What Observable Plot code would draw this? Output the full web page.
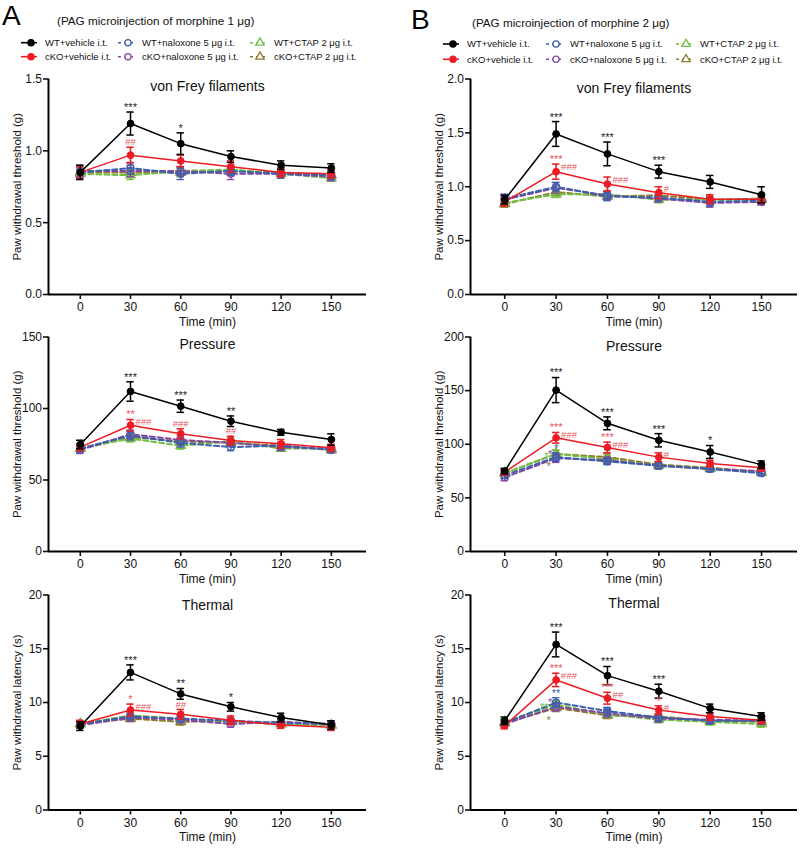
<!DOCTYPE html>
<html><head><meta charset="utf-8">
<script src="https://cdn.jsdelivr.net/npm/d3@7"></script>
<script src="https://cdn.jsdelivr.net/npm/@observablehq/plot@0.6"></script>
<style>
body{margin:0;background:#fff;}
#root{position:relative;width:800px;height:849px;overflow:hidden;font-family:"Liberation Sans",Arial,Helvetica,sans-serif;}
</style></head><body><div id="root"></div>
<script>
// ---------------- data ----------------
const timePoints = [0, 30, 60, 90, 120, 150];
const seriesNames = ["WT+vehicle i.t.", "cKO+vehicle i.t.", "WT+naloxone 5 μg i.t.", "cKO+naloxone 5 μg i.t.", "WT+CTAP 2 μg i.t.", "cKO+CTAP 2 μg i.t."];
const panelLetters = ["A", "B"];
const panelSubtitles = ["(PAG microinjection of morphine 1 μg)", "(PAG microinjection of morphine 2 μg)"];
const panelTitles = ["von Frey filaments", "Pressure", "Thermal"];
const yLabels = ["Paw withdrawal threshold (g)", "Paw withdrawal threshold (g)", "Paw withdrawal latency (s)"];
const xLabel = "Time (min)";
const yTicksVonFreyA = [0, 0.5, 1.0, 1.5];
const yTicksVonFreyB = [0, 0.5, 1.0, 1.5, 2.0];
const yTicksPressureA = [0, 50, 100, 150];
const yTicksPressureB = [0, 50, 100, 150, 200];
const yTicksThermal = [0, 5, 10, 15, 20];

// series order: WT+vehicle, cKO+vehicle, WT+naloxone, cKO+naloxone, WT+CTAP, cKO+CTAP
const vonFreyA_mean = [
  [0.85, 1.19, 1.05, 0.96, 0.90, 0.88],
  [0.85, 0.97, 0.93, 0.89, 0.85, 0.84],
  [0.85, 0.88, 0.84, 0.86, 0.84, 0.83],
  [0.86, 0.86, 0.86, 0.84, 0.84, 0.82],
  [0.84, 0.83, 0.86, 0.87, 0.84, 0.81],
  [0.85, 0.85, 0.85, 0.86, 0.85, 0.83]];
const vonFreyA_sem = [
  [0.05, 0.08, 0.075, 0.04, 0.03, 0.03],
  [0.04, 0.055, 0.04, 0.04, 0.03, 0.03],
  [0.04, 0.04, 0.04, 0.03, 0.03, 0.03],
  [0.04, 0.04, 0.03, 0.04, 0.03, 0.03],
  [0.03, 0.03, 0.03, 0.03, 0.03, 0.02],
  [0.03, 0.03, 0.03, 0.03, 0.03, 0.03]];
const vonFreyB_mean = [
  [0.88, 1.49, 1.305, 1.14, 1.045, 0.925],
  [0.86, 1.14, 1.025, 0.945, 0.885, 0.885],
  [0.89, 1.00, 0.91, 0.90, 0.86, 0.87],
  [0.88, 0.99, 0.92, 0.89, 0.85, 0.86],
  [0.85, 0.93, 0.93, 0.88, 0.88, 0.88],
  [0.84, 0.95, 0.91, 0.92, 0.88, 0.89]];
const vonFreyB_sem = [
  [0.04, 0.115, 0.11, 0.06, 0.06, 0.075],
  [0.04, 0.07, 0.065, 0.055, 0.04, 0.04],
  [0.04, 0.04, 0.04, 0.03, 0.04, 0.03],
  [0.05, 0.05, 0.04, 0.03, 0.04, 0.03],
  [0.03, 0.03, 0.03, 0.03, 0.04, 0.03],
  [0.03, 0.03, 0.03, 0.03, 0.03, 0.03]];
const pressureA_mean = [
  [74.8, 111.9, 101.6, 91.1, 83.4, 78.3],
  [73, 88.3, 82.3, 77.6, 75.3, 72.5],
  [72, 81, 76, 73, 74, 71],
  [71, 82, 78, 76, 73, 72],
  [72, 79, 74, 77, 72, 72],
  [72, 80, 77, 76, 74, 71]];
const pressureA_sem = [
  [3, 6.8, 4.3, 3.7, 2, 4],
  [2.5, 4, 3.5, 3, 3, 2.5],
  [2.5, 3, 3, 2.5, 2.5, 2],
  [2.5, 3, 3, 2.5, 2.5, 2],
  [2, 2.5, 2.5, 2.5, 2, 2],
  [2, 2.5, 2.5, 2.5, 2, 2]];
const pressureB_mean = [
  [75, 150.5, 119.5, 103.7, 92.8, 81],
  [74, 106, 97, 88, 82, 78],
  [71, 88, 84, 80, 77, 73],
  [69, 87, 85, 80, 77, 75],
  [73, 91, 86, 80, 77, 74],
  [73, 91, 88, 81, 78, 74]];
const pressureB_sem = [
  [2.5, 11.7, 6, 6.2, 6, 3.5],
  [2.5, 5, 5, 4, 3, 3],
  [3, 4, 3, 3, 2.5, 2.5],
  [3, 4, 3, 3, 2.5, 2.5],
  [2.5, 3.5, 3, 2.5, 2.5, 2.5],
  [2.5, 3.5, 3, 2.5, 2.5, 2.5]];
const thermalA_mean = [
  [7.8, 12.8, 10.8, 9.6, 8.6, 7.9],
  [8.0, 9.3, 8.9, 8.35, 7.9, 7.7],
  [8.0, 8.7, 8.5, 8.3, 8.1, 8.0],
  [7.9, 8.6, 8.4, 8.0, 8.2, 8.0],
  [8.0, 8.8, 8.5, 8.2, 8.0, 7.9],
  [8.0, 8.5, 8.2, 8.3, 8.0, 7.9]];
const thermalA_sem = [
  [0.4, 0.7, 0.5, 0.4, 0.4, 0.4],
  [0.35, 0.55, 0.45, 0.4, 0.3, 0.3],
  [0.3, 0.3, 0.3, 0.3, 0.3, 0.3],
  [0.3, 0.3, 0.3, 0.3, 0.3, 0.3],
  [0.3, 0.3, 0.3, 0.25, 0.25, 0.25],
  [0.3, 0.3, 0.3, 0.25, 0.25, 0.25]];
const thermalB_mean = [
  [8.3, 15.4, 12.5, 11.05, 9.45, 8.7],
  [7.85, 12.1, 10.4, 9.3, 8.7, 8.35],
  [8.1, 10.0, 9.2, 8.6, 8.3, 8.3],
  [8.0, 9.6, 9.0, 8.5, 8.4, 8.3],
  [8.2, 9.8, 8.9, 8.4, 8.2, 8.0],
  [8.1, 9.5, 8.8, 8.7, 8.3, 8.2]];
const thermalB_sem = [
  [0.35, 1.15, 0.85, 0.65, 0.4, 0.35],
  [0.3, 0.62, 0.55, 0.4, 0.35, 0.3],
  [0.3, 0.45, 0.35, 0.3, 0.3, 0.3],
  [0.3, 0.4, 0.35, 0.3, 0.3, 0.3],
  [0.3, 0.35, 0.3, 0.3, 0.3, 0.3],
  [0.3, 0.35, 0.3, 0.3, 0.3, 0.3]];

// significance marks: [time, series index, label, placement]
const vonFreyA_notes = [[30,0,"***","above"],[60,0,"*","above"],[30,1,"##","above"]];
const vonFreyB_notes = [[30,0,"***","above"],[60,0,"***","above"],[90,0,"***","above"],[30,1,"***","above"],[30,1,"###","right"],[60,1,"###","right"],[90,1,"#","right"]];
const pressureA_notes = [[30,0,"***","above"],[60,0,"***","above"],[90,0,"**","above"],[30,1,"**","above"],[30,1,"###","right"],[60,1,"###","above"],[90,1,"##","above"]];
const pressureB_notes = [[30,0,"***","above"],[60,0,"***","above"],[90,0,"***","above"],[120,0,"*","above"],[30,1,"***","above"],[30,1,"###","right"],[60,1,"***","above"],[60,1,"###","right"],[90,1,"#","right"],[30,2,"*","above"],[30,3,"*","upleft"],[30,4,"*","left"],[30,5,"*","lowleft"]];
const thermalA_notes = [[30,0,"***","above"],[60,0,"**","above"],[90,0,"*","above"],[30,1,"*","above"],[30,1,"###","right"],[60,1,"##","above"]];
const thermalB_notes = [[30,0,"***","above"],[60,0,"***","above"],[90,0,"***","above"],[30,1,"***","above"],[30,1,"###","right"],[60,1,"***","above"],[60,1,"##","right"],[90,1,"*","above"],[90,1,"#","right"],[30,2,"**","above"],[30,3,"*","upleft"],[30,4,"**","left"],[30,5,"*","lowleft"]];

// ---------------- styles ----------------
const FONT = '"Liberation Sans", Arial, Helvetica, sans-serif';
const seriesColors = ["#000000", "#ed1c24", "#3d5fae", "#8447a3", "#72bf44", "#8c7b2b"];
const noteColors = ["#1a1a1a", "#e9545d", "#3d5fae", "#8447a3", "#72bf44", "#8c7b2b"];
const seriesSymbols = ["circle", "circle", "circle", "circle", "triangle", "triangle"];
const seriesFilled = [true, true, false, false, false, false];
const seriesDashed = [false, false, true, true, true, true];
const drawOrder = [5, 4, 3, 2, 1, 0];

const colLayout = {
  A: {left: 0, width: 390, ml: 48, mr: 24, xDomain: [-19, 171]},
  B: {left: 400, width: 400, ml: 70, mr: 3, xDomain: [-20, 171]}
};
const rowLayout = [
  {top: 50, h: 290, ft: 78.5, fb: 294},
  {top: 310, h: 290, ft: 336.5, fb: 551},
  {top: 568, h: 281, ft: 594.5, fb: 809.5}
];
const placements = {
  above:   {atTop: true,  dx: 0,    cy: s => s ? -7.5 : -5, ta: "middle"},
  right:   {atTop: true,  dx: 5,    cy: () => 2.5, ta: "start"},
  upleft:  {atTop: false, dx: -6,   cy: () => -7, ta: "middle"},
  left:    {atTop: false, dx: -7.5, cy: () => 0, ta: "end"},
  lowleft: {atTop: false, dx: -7.5, cy: () => 10, ta: "middle"}
};

const panels = [
  {col: "A", row: 0, yMax: 1.5, yTicks: yTicksVonFreyA, fmt: ".1f", mean: vonFreyA_mean, sem: vonFreyA_sem, notes: vonFreyA_notes, titleDy: 7.5},
  {col: "B", row: 0, yMax: 2.0, yTicks: yTicksVonFreyB, fmt: ".1f", mean: vonFreyB_mean, sem: vonFreyB_sem, notes: vonFreyB_notes, titleDy: 9.5},
  {col: "A", row: 1, yMax: 150, yTicks: yTicksPressureA, fmt: "d", mean: pressureA_mean, sem: pressureA_sem, notes: pressureA_notes, titleDy: 7.5},
  {col: "B", row: 1, yMax: 200, yTicks: yTicksPressureB, fmt: "d", mean: pressureB_mean, sem: pressureB_sem, notes: pressureB_notes, titleDy: 10},
  {col: "A", row: 2, yMax: 20, yTicks: yTicksThermal, fmt: "d", mean: thermalA_mean, sem: thermalA_sem, notes: thermalA_notes, titleDy: 11},
  {col: "B", row: 2, yMax: 20, yTicks: yTicksThermal, fmt: "d", mean: thermalB_mean, sem: thermalB_sem, notes: thermalB_notes, titleDy: 8.5}
];

const root = document.getElementById("root");

function buildPanel(cfg) {
  const L = colLayout[cfg.col], R = rowLayout[cfg.row];
  const marks = [];
  marks.push(Plot.axisX(timePoints, {tickSize: 5, tickPadding: 3, label: null, strokeWidth: 1.6, fontSize: 12, fill: "#111"}));
  marks.push(Plot.axisY(cfg.yTicks, {tickSize: 5, tickPadding: 1.5, label: null, strokeWidth: 1.6, fontSize: 12, fill: "#111", tickFormat: d3.format(cfg.fmt)}));
  marks.push(Plot.ruleY([0], {stroke: "#000", strokeWidth: 2}));
  marks.push(Plot.ruleX([L.xDomain[0]], {y1: 0, y2: cfg.yMax, stroke: "#000", strokeWidth: 2}));
  const cap = 2.2;
  for (const si of drawOrder) {
    const rows = timePoints.map((t, i) => ({t, m: cfg.mean[si][i], s: cfg.sem[si][i]}));
    const col = seriesColors[si];
    const ew = si < 2 ? 1.5 : 1.3;
    marks.push(Plot.ruleX(rows, {x: "t", y1: d => d.m - d.s, y2: d => d.m + d.s, stroke: col, strokeWidth: ew}));
    marks.push(Plot.ruleY(rows, {y: d => d.m + d.s, x1: d => d.t - cap, x2: d => d.t + cap, stroke: col, strokeWidth: ew}));
    marks.push(Plot.ruleY(rows, {y: d => d.m - d.s, x1: d => d.t - cap, x2: d => d.t + cap, stroke: col, strokeWidth: ew}));
    const lineOpts = {x: "t", y: "m", stroke: col, strokeWidth: seriesDashed[si] ? 2 : 1.5};
    if (seriesDashed[si]) lineOpts.strokeDasharray = "5,3";
    marks.push(Plot.line(rows, lineOpts));
    marks.push(Plot.dot(rows, {x: "t", y: "m", r: 3.4, symbol: seriesSymbols[si],
      fill: seriesFilled[si] ? col : "none", stroke: col, strokeWidth: seriesFilled[si] ? 1 : 1.4}));
  }
  for (const [t, si, label, place] of cfg.notes) {
    const i = timePoints.indexOf(t);
    const m = cfg.mean[si][i], s = cfg.sem[si][i];
    const P = placements[place];
    const star = label.includes("*");
    const fs = star ? 11 : 9.5;
    const dy = P.cy(star) + (star ? 0.265 * fs : 0);
    marks.push(Plot.text([{t, v: P.atTop ? m + s : m}], {
      x: "t", y: "v", text: () => label, dx: P.dx, dy, textAnchor: P.ta, lineAnchor: "middle",
      fontSize: fs, fill: noteColors[si]
    }));
  }
  marks.push(Plot.text([panelTitles[cfg.row]], {text: d => d, frameAnchor: "top", dy: cfg.titleDy, lineAnchor: "middle", fontSize: 14, fill: "#111"}));
  marks.push(Plot.text([yLabels[cfg.row]], {text: d => d, frameAnchor: "left", rotate: -90, textAnchor: "middle", lineAnchor: "middle", dx: -31, fontSize: 11.5, fill: "#111"}));
  marks.push(Plot.text([xLabel], {text: d => d, frameAnchor: "bottom", dy: 27.5, lineAnchor: "middle", fontSize: 12, fill: "#111"}));

  const svg = Plot.plot({
    width: L.width, height: R.h,
    marginLeft: L.ml, marginRight: L.mr,
    marginTop: R.ft - R.top, marginBottom: R.top + R.h - R.fb,
    style: {fontFamily: FONT, fontSize: "12px", color: "#111", background: "none", overflow: "visible"},
    x: {domain: L.xDomain},
    y: {domain: [0, cfg.yMax]},
    marks
  });
  svg.style.position = "absolute";
  svg.style.left = L.left + "px";
  svg.style.top = R.top + "px";
  svg.style.maxWidth = "none";
  root.appendChild(svg);
}
panels.forEach(buildPanel);

// ---------------- header: letters, subtitles, legends ----------------
const headerLayout = {
  A: {letterX: 2, letterY: 25, subX: 57, subY: 25.3, segX: [21, 118, 250], rowY: [42.7, 56.7]},
  B: {letterX: 411, letterY: 29, subX: 472, subY: 27.3, segX: [443, 546, 676], rowY: [44, 59.3]}
};
const header = d3.select(root).append("svg")
  .attr("width", 800).attr("height", 72)
  .style("position", "absolute").style("left", "0px").style("top", "0px")
  .style("font-family", FONT);
panelLetters.forEach((letter, k) => {
  const H = headerLayout[letter];
  header.append("text").attr("x", H.letterX).attr("y", H.letterY).attr("font-size", 28).attr("fill", "#000").text(letter);
  header.append("text").attr("x", H.subX).attr("y", H.subY).attr("font-size", 11.7).attr("fill", "#111").text(panelSubtitles[k]);
  seriesNames.forEach((name, si) => {
    const c = Math.floor(si / 2), r = si % 2;
    const x0 = H.segX[c], y = H.rowY[r];
    const col = seriesColors[si];
    header.append("line").attr("x1", x0).attr("x2", x0 + 16).attr("y1", y).attr("y2", y)
      .attr("stroke", col).attr("stroke-width", seriesDashed[si] ? 1.6 : 1.6)
      .attr("stroke-dasharray", seriesDashed[si] ? "3,3" : null);
    const sym = d3.symbol().type(seriesSymbols[si] === "triangle" ? d3.symbolTriangle : d3.symbolCircle).size(seriesSymbols[si] === "triangle" ? 30 : 30);
    header.append("path").attr("d", sym()).attr("transform", `translate(${x0 + 10},${y})`)
      .attr("fill", seriesFilled[si] ? col : "#fff").attr("stroke", col).attr("stroke-width", 1.3);
    header.append("text").attr("x", x0 + 24).attr("y", y + 3.4).attr("font-size", 9.5).attr("fill", "#111").text(name);
  });
});
</script></body></html>
